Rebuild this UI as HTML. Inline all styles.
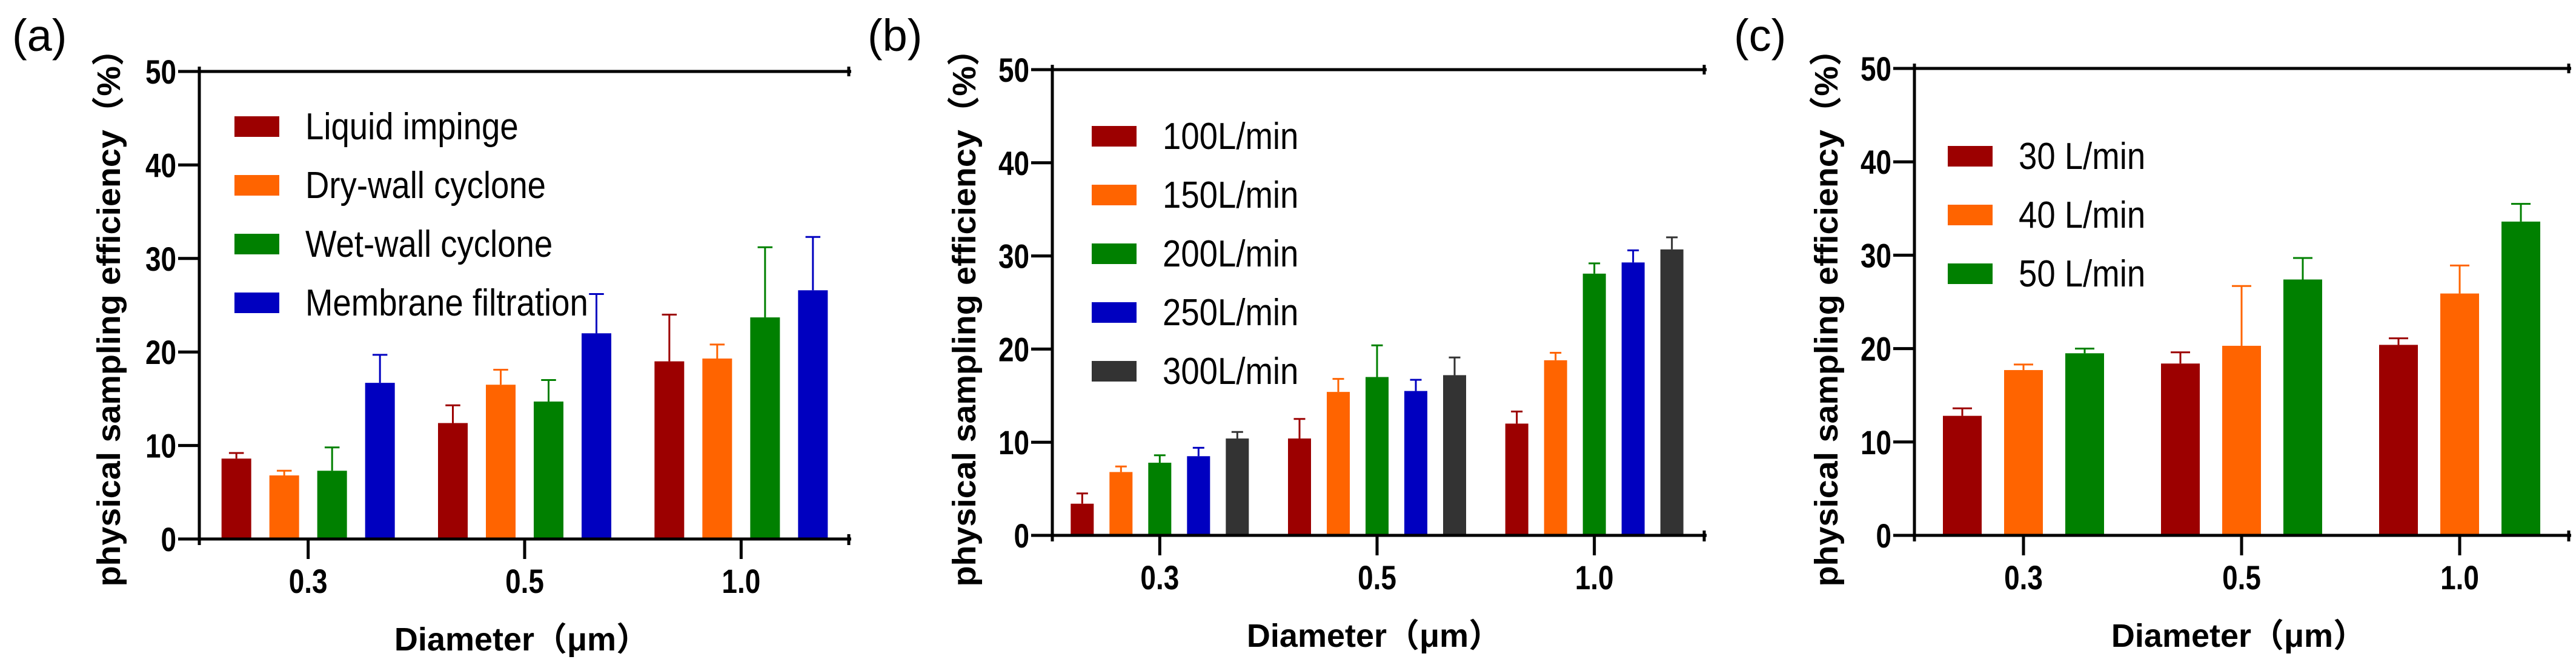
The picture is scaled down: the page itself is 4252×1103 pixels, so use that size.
<!DOCTYPE html>
<html><head><meta charset="utf-8"><style>
html,body{margin:0;padding:0;background:#fff;}
svg{display:block;}
.tk{font-family:"Liberation Sans Narrow","Liberation Sans",sans-serif;font-weight:bold;font-size:56px;fill:#000;}
.lg{font-family:"Liberation Sans Narrow","Liberation Sans",sans-serif;font-size:62px;fill:#000;}
.tt{font-family:"Liberation Sans","Noto Sans CJK SC",sans-serif;font-weight:bold;font-size:54px;fill:#000;}
.pl{font-family:"Liberation Sans",sans-serif;font-size:74px;fill:#000;}
</style></head><body>
<svg id="fig" width="4252" height="1103" viewBox="0 0 4252 1103" xmlns="http://www.w3.org/2000/svg"></svg>
<script>
const categories = ["0.3", "0.5", "1.0"];
const yTicks = [0, 10, 20, 30, 40, 50];
// Panel a
const aSeries = ["Liquid impinge", "Dry-wall cyclone", "Wet-wall cyclone", "Membrane filtration"];
const aValues = [[8.6, 12.4, 19.0], [6.8, 16.5, 19.3], [7.3, 14.7, 23.7], [16.7, 22.0, 26.6]];
const aErrors = [[0.6, 1.9, 5.0], [0.5, 1.6, 1.5], [2.5, 2.3, 7.5], [3.0, 4.2, 5.7]];
// Panel b
const bSeries = ["100L/min", "150L/min", "200L/min", "250L/min", "300L/min"];
const bValues = [[3.4, 10.4, 12.0], [6.8, 15.4, 18.8], [7.8, 17.0, 28.1], [8.5, 15.5, 29.3], [10.4, 17.2, 30.7]];
const bErrors = [[1.1, 2.1, 1.3], [0.6, 1.4, 0.8], [0.8, 3.4, 1.1], [0.9, 1.2, 1.3], [0.7, 1.9, 1.3]];
// Panel c
const cSeries = ["30 L/min", "40 L/min", "50 L/min"];
const cValues = [[12.8, 18.4, 20.4], [17.7, 20.3, 25.9], [19.5, 27.4, 33.6]];
const cErrors = [[0.8, 1.2, 0.7], [0.6, 6.4, 3.0], [0.5, 2.3, 1.9]];

const COLORS = ["#9c0000", "#ff6400", "#008000", "#0000c0", "#333333"];
const NS = "http://www.w3.org/2000/svg";
const fig = document.getElementById("fig");
function mk(tag, attrs, parent, text) {
  const e = document.createElementNS(NS, tag);
  for (const k in attrs) e.setAttribute(k, attrs[k]);
  if (text !== undefined) e.textContent = text;
  parent.appendChild(e);
  return e;
}

function panel(p) {
  const g = mk("g", {}, fig);
  
  
  const y = v => p.y0 - (p.y0 - p.y50) * v / 50;
  const xc = i => p.x0 + (p.x1 - p.x0) * (0.5 + i) / 3 - p.shift;
  p.values.forEach((vals, s) => {
    vals.forEach((v, i) => {
      const cx = xc(i) + (s - (p.values.length - 1) / 2) * p.step;
      const top = y(v), et = y(v + p.errors[s][i]);
      const eb = mk("line", {x1: cx, x2: cx, y1: top, y2: et, stroke: COLORS[s], "stroke-width": 3}, g);
      
      
      const cap = mk("line", {x1: cx - p.bw * 0.25, x2: cx + p.bw * 0.25, y1: et, y2: et, stroke: COLORS[s], "stroke-width": 3}, g);
      
      
      const r = mk("rect", {x: cx - p.bw / 2, y: top, width: p.bw, height: p.y0 - top, fill: COLORS[s]}, g);
      
      
    });
  });
  const ax = mk("path", {d: `M${p.x0 - 35},${p.y0}H${p.x1 + 4}M${p.x0},${p.y50 - 8}V${p.y0 + 10}M${p.x0 - 35},${p.y50}H${p.x1 + 4}M${p.x1},${p.y50 - 8}V${p.y50 + 8}M${p.x1},${p.y0 - 8}V${p.y0 + 10}`, stroke: "#000", "stroke-width": 5, fill: "none"}, g);
  
  
  yTicks.forEach(t => {
    const l = mk("line", {x1: p.x0 - 35, x2: p.x0, y1: y(t), y2: y(t), stroke: "#000", "stroke-width": 5}, g);
    
    
    const tx = mk("text", {x: 0, y: 0, "text-anchor": "end", class: "tk", transform: `translate(${p.x0 - 38},${y(t) + 20}) scale(0.82,1)`}, g, String(t));
    
    
  });
  categories.forEach((c, i) => {
    const l = mk("line", {x1: xc(i), x2: xc(i), y1: p.y0, y2: p.y0 + 33, stroke: "#000", "stroke-width": 5}, g);
    
    
    const tx = mk("text", {x: 0, y: 0, "text-anchor": "middle", class: "tk", transform: `translate(${xc(i)},${p.y0 + 89}) scale(0.82,1)`}, g, c);
    
    
  });
  const xt = mk("text", {x: xc(1) - 5, y: p.y0 + 184, "text-anchor": "middle", class: "tt"}, g, "Diameter（μm）");
  
  
  const yt = mk("text", {x: 0, y: 0, "text-anchor": "middle", class: "tt", textLength: 915, lengthAdjust: "spacingAndGlyphs", transform: `translate(${p.ytx},511) rotate(-90)`}, g, "physical sampling  efficiency（%）");
  
  
  const pl = mk("text", {x: p.plx, y: 84, class: "pl"}, g, "(" + p.id + ")");
  
  
  p.series.forEach((s, k) => {
    const cy = p.ly + k * p.lstep;
    const sw = mk("rect", {x: p.lx, y: cy - 17, width: 74, height: 34, fill: COLORS[k]}, g);
    
    
    const t = mk("text", {x: 0, y: 0, class: "lg", transform: `translate(${p.lx + 117},${cy + 21}) scale(0.88,1)`}, g, s);
    
    
  });
}

panel({id: "a", x0: 329, x1: 1401, y0: 890, y50: 118, shift: -1, step: 79, bw: 49, values: aValues, errors: aErrors, series: aSeries, ytx: 198, plx: 20, lx: 387, ly: 209, lstep: 97});
panel({id: "b", x0: 1737, x1: 2813, y0: 884, y50: 115, shift: 2, step: 64, bw: 38, values: bValues, errors: bErrors, series: bSeries, ytx: 1610, plx: 1432, lx: 1802, ly: 225, lstep: 97});
panel({id: "c", x0: 3160, x1: 4240, y0: 884, y50: 113, shift: 0, step: 101, bw: 64, values: cValues, errors: cErrors, series: cSeries, ytx: 3033, plx: 2862, lx: 3215, ly: 258, lstep: 97});
</script>
</body></html>
